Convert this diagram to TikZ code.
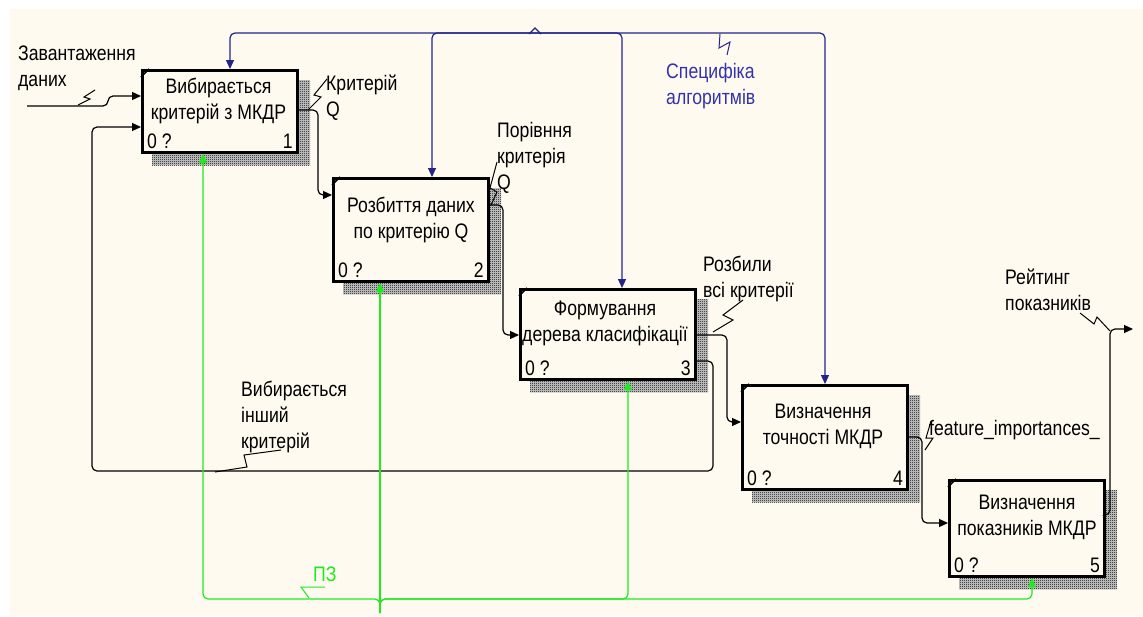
\documentclass[tikz,border=0pt]{standalone}
\usepackage{fontspec}
\setmainfont[FakeStretch=0.84]{Liberation Sans}
\usetikzlibrary{arrows.meta,patterns}
\definecolor{cream}{RGB}{255,250,240}
\definecolor{navy}{RGB}{35,35,140}
\definecolor{navytext}{RGB}{50,50,170}
\definecolor{lime}{RGB}{30,235,30}
\pgfdeclarelayer{bg}\pgfdeclarelayer{shad}\pgfsetlayers{bg,shad,main}
\pgfdeclarepatternformonly{checker}{\pgfqpoint{0pt}{0pt}}{\pgfqpoint{2pt}{2pt}}{\pgfqpoint{2pt}{2pt}}{%
  \pgfpathrectangle{\pgfqpoint{0pt}{0pt}}{\pgfqpoint{1pt}{1pt}}%
  \pgfpathrectangle{\pgfqpoint{1pt}{1pt}}{\pgfqpoint{1pt}{1pt}}%
  \pgfusepath{fill}}
\begin{document}
\begin{tikzpicture}[x=1pt,y=-1pt,
  font=\fontsize{21}{26}\selectfont,
  box/.style={draw, line width=3pt, fill=cream, rectangle, anchor=north west, inner sep=0pt},
  shadowbox/.style={fill=black!18, postaction={pattern=checker, pattern color=black}},
  arr/.style={draw, line width=1.2pt, rounded corners=5pt, -{Triangle[length=9pt,width=8pt]}},
  ctl/.style={arr, navy},
  mec/.style={arr, lime},
  lab/.style={anchor=west, align=left, inner sep=0pt},
  sq/.style={draw, line width=1pt},
  num/.style={inner sep=0pt},
  btext/.style={align=center, inner sep=0pt}]
\useasboundingbox (0,0) rectangle (1143,616);
\begin{pgfonlayer}{bg}
  \fill[white] (0,0) rectangle (1143,616);
  \fill[cream] (10,9) rectangle (1143,616);
\end{pgfonlayer}

% boxes
\node[box, minimum width=155pt, minimum height=82pt] (b1) at (141,69) {};
\node[box, minimum width=155pt, minimum height=103pt] (b2) at (332,177) {};
\node[box, minimum width=175pt, minimum height=90pt] (b3) at (519,288) {};
\node[box, minimum width=165pt, minimum height=104pt] (b4) at (741,384) {};
\node[box, minimum width=155pt, minimum height=96pt] (b5) at (948,479) {};

\begin{pgfonlayer}{shad}
  \foreach \b in {b1,b2,b3,b4,b5}{
    \fill[shadowbox] ([xshift=11pt,yshift=-11pt]\b.north west) rectangle ([xshift=11pt,yshift=-11pt]\b.south east);
  }
\end{pgfonlayer}

% corner marks
\foreach \b in {b1,b2,b3,b4,b5}{
  \draw[line width=1.6pt] ([yshift=-8pt]\b.north west) -- ([xshift=8pt]\b.north west);
}

% box texts
\node[btext] (b1t) at (218.5,101) {Вибирається\\критерій з МКДР};
\node[btext] (b2t) at (411,219.5) {Розбиття даних\\по критерію Q};
\node[btext] (b3t) at (605,323) {Формування\\дерева класифікації};
\node[btext] (b4t) at (823,426) {Визначення\\точності МКДР};
\node[btext] (b5t) at (1027,517) {Визначення\\показників МКДР};

\foreach \b/\n in {b1/1,b2/2,b3/3,b4/4,b5/5}{
  \node[num, anchor=base west] (\b z) at ([xshift=6pt,yshift=6pt]\b.south west) {0 ?};
  \node[num, anchor=base east] (\b n) at ([xshift=-6pt,yshift=6pt]\b.south east) {\n};
}

% input
\coordinate (in1) at (27,106);
\draw[arr] (in1) -- (108,106) -- (108,96) -- (b1.west |- 0,96);
\node[lab] (lin1) at (18,68.5) {Завантаження\\даних};
\draw[sq] (78,105) -- (90,99) -- (84,97) -- (95,90);

% feedback
\draw[arr] (b3.east |- 0,361) -- (713,361) -- (713,471) -- (92,471) -- (92,127) -- (b1.west |- 0,127);
\node[lab] (lfb) at (241,416.5) {Вибирається\\інший\\критерій};
\draw[sq] (281,450) -- (244,455) -- (247,467) -- (215,472);

% outputs
\draw[arr] (b1.east |- 0,110) -- (318,110) -- (318,195) -- (b2.west |- 0,195);
\node[lab] (lo1) at (326,97.5) {Критерій\\Q};
\draw[sq] (308,110) -- (321,97) -- (314,95) -- (327,79);

\draw[arr] (b2.east |- 0,205) -- (503,205) -- (503,335) -- (b3.west |- 0,335);
\node[lab] (lo2) at (497,158) {Порівння\\критерія\\Q};
\draw[sq] (491,205) -- (497,192) -- (490,188) -- (497,162);

\draw[arr] (b3.east |- 0,335) -- (727,335) -- (727,422) -- (b4.west |- 0,422);
\node[lab] (lo3) at (703,279) {Розбили\\всі критерії};
\draw[sq] (713,332) -- (733,320) -- (723,315) -- (743,300);

\draw[arr] (b4.east |- 0,437) -- (922,437) -- (922,523) -- (b5.west |- 0,523);
\node[lab] (lo4) at (929,430.5) {feature\_importances\_};
\draw[sq] (925,450) -- (933,438) -- (926,438) -- (931,421);

\coordinate (out5) at (1133,329);
\draw[arr] (b5.east |- 0,515) -- (1110,515) -- (1110,329) -- (out5);
\node[lab] (lo5) at (1005,289.5) {Рейтинг\\показників};
\draw[sq] (1080,313) -- (1094,324) -- (1097,317) -- (1110,331);

% control
\coordinate (ctl) at (535,33);
\draw[ctl] (ctl) -| (230,0 |- b1.north);
\draw[ctl] (ctl) -| (432,0 |- b2.north);
\draw[ctl] (ctl) -| (622,0 |- b3.north);
\draw[ctl] (ctl) -| (825,0 |- b4.north);
\draw[navy, line width=1.2pt] (529,34) -- (535,28) -- (541,34);
\node[lab, text=navytext] (lctl) at (666,86.5) {Специфіка\\алгоритмів};
\draw[sq, navy] (720,34) -- (719,48) -- (730,42) -- (727,55);

% mechanism
\coordinate (mech) at (380,613);
\draw[mec] (mech) -- (380,599) -| (203,0 |- b1.south);
\draw[mec] (mech) -- (380,0 |- b2.south);
\draw[mec] (mech) -- (380,599) -| (628,0 |- b3.south);
\draw[mec] (mech) -- (380,599) -| (1032,0 |- b5.south);
\node[lab, text=lime] (lmech) at (313,574.5) {ПЗ};
\draw[sq, lime] (325,587) -- (301,587) -- (309,598);
\end{tikzpicture}
\end{document}
